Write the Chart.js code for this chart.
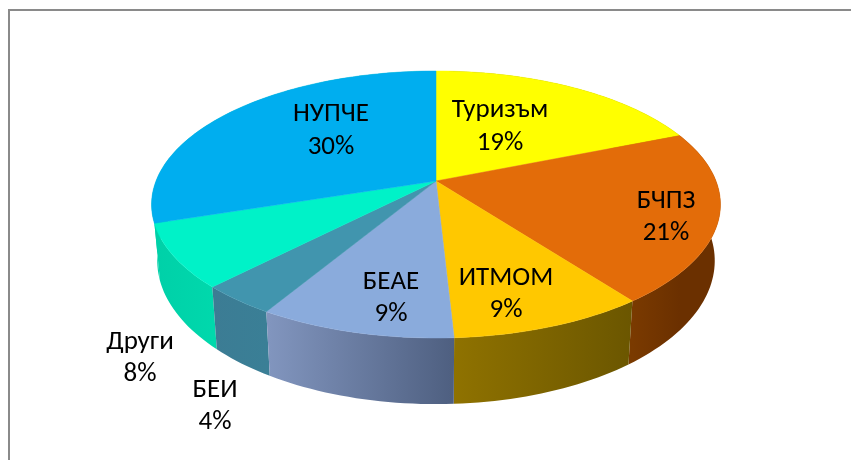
<!DOCTYPE html>
<html><head><meta charset="utf-8">
<style>html,body{margin:0;padding:0;background:#fff;width:851px;height:460px;overflow:hidden}
#wrap{position:absolute;left:0;top:0;width:851px;height:460px}</style>
<script src="https://cdn.jsdelivr.net/npm/chart.js@4"></script>
</head><body><div id="wrap"><canvas id="c" width="851" height="460"></canvas></div>
<script>
const categories = ['Туризъм','БЧПЗ','ИТМОМ','БЕАЕ','БЕИ','Други','НУПЧЕ'];
const shares = [18.9,20.8,9.45,9.45,3.7,7.7,30];
const topColors = ['#FFFF00','#E36C09','#FFC800','#8AABDC','#4195AE','#00F2C8','#00AEEF'];
const sideStops = [
  ['#8a8a00','#8a8a00'],
  ['#6b3000','#7a3a00'],
  ['#6b5600','#8f7200'],
  ['#4e5f80','#8296bf'],
  ['#3a7f96','#3c7c94'],
  ['#00d8ac','#00d0a8'],
  ['#00d0a8','#00d0a8']
];
const labelSpots = [[500,125],[666,215.5],[506,292.5],[391,296.5],[215,404.5],[140,356.5],[331,129]];

// Perspective of the disc: unit circle -> screen
const P = {cx:436, cy:181, ax:280, by:97.5, k:-0.176};
function proj(x,y,drop){
  const d = 1 + P.k*y;
  const px = P.cx + P.ax*x/d;
  const py = (P.cy + P.by*y)/d;
  return drop ? [P.cx+(px-P.cx)*0.98, py + drop.depth/d] : [px,py];
}
function rim(theta,drop){return proj(Math.sin(theta),-Math.cos(theta),drop);}

const pie3d = {
  id:'pie3d',
  beforeDatasetsDraw(chart){
    const ctx = chart.ctx, meta = chart.getDatasetMeta(0);
    const arcs = meta.data;
    const drop = {depth:54.5};
    const bounds = arcs.map(a=>[a.startAngle+Math.PI/2, a.endAngle+Math.PI/2]);
    const order = bounds.map((b,i)=>i).sort((i,j)=>{
      const f=b=>-Math.cos((b[0]+b[1])/2);
      return f(bounds[i])-f(bounds[j]);
    });
    ctx.save();
    for(const i of order){
      const [a0,a1]=bounds[i];
      const n=Math.max(8,Math.ceil((a1-a0)*40));
      const pts=[],low=[];
      for(let s=0;s<=n;s++){const t=a0+(a1-a0)*s/n;pts.push(rim(t));low.push(rim(t,drop));}
      const g=ctx.createLinearGradient(pts[0][0],0,pts[n][0],0);
      g.addColorStop(0,sideStops[i][0]);g.addColorStop(1,sideStops[i][1]);
      ctx.beginPath();
      pts.forEach((p,s)=>s?ctx.lineTo(p[0],p[1]):ctx.moveTo(p[0],p[1]));
      low.reverse().forEach(p=>ctx.lineTo(p[0],p[1]));
      ctx.closePath();ctx.fillStyle=g;ctx.fill();
    }
    arcs.forEach((a,i)=>{
      const [a0,a1]=bounds[i];
      const n=Math.max(8,Math.ceil((a1-a0)*40));
      ctx.beginPath();ctx.moveTo(P.cx,P.cy);
      for(let s=0;s<=n;s++){const p=rim(a0+(a1-a0)*s/n);ctx.lineTo(p[0],p[1]);}
      ctx.closePath();
      ctx.fillStyle=chart.data.datasets[0].backgroundColor[i];
      ctx.strokeStyle=ctx.fillStyle;ctx.lineWidth=0.5;
      ctx.fill();ctx.stroke();
    });
    // frame: left and top only
    ctx.strokeStyle='#8a8a8a';ctx.lineWidth=2;
    ctx.beginPath();ctx.moveTo(9,470);ctx.lineTo(9,10);ctx.lineTo(860,10);ctx.stroke();
    // labels
    ctx.fillStyle='#000';ctx.font='27px Carlito, "Open Sans", "Noto Sans", sans-serif';
    ctx.textAlign='center';ctx.textBaseline='middle';
    categories.forEach((c,i)=>{
      const [x,y]=labelSpots[i];
      ctx.fillText(c,x,y-14.5);
      ctx.fillText(Math.round(shares[i])+'%',x,y+18);
    });
    ctx.restore();
    return false;
  }
};
new Chart(document.getElementById('c'),{
  type:'pie',
  data:{labels:categories,datasets:[{data:shares,backgroundColor:topColors,borderWidth:0}]},
  options:{responsive:false,animation:false,plugins:{legend:{display:false},tooltip:{enabled:false}}},
  plugins:[pie3d]
});
</script></body></html>
